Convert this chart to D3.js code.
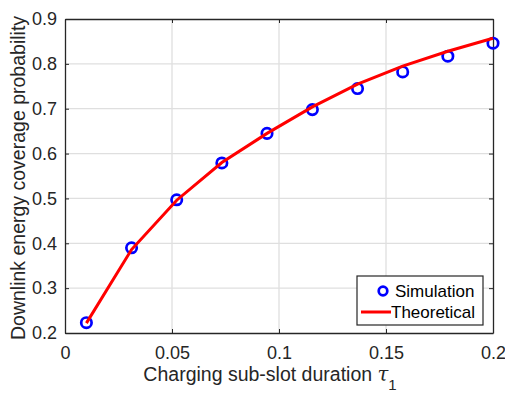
<!DOCTYPE html>
<html>
<head>
<meta charset="utf-8">
<script src="https://cdn.jsdelivr.net/npm/d3@7"></script>
<style>
  body { margin: 0; background: #fff; }
  svg { font-family: "Liberation Sans", Arial, sans-serif; }
  .tick text { fill: #262626; font-size: 18px; }
  .label { fill: #262626; font-size: 19.5px; }
  .legend text { fill: #000; font-size: 17px; }
</style>
</head>
<body>
<svg width="505" height="401"></svg>
<script>
// data
const tau = [0.01, 0.0311, 0.0522, 0.0733, 0.0944, 0.1156, 0.1367, 0.1578, 0.1789, 0.2];
const simulation = [0.223, 0.39, 0.497, 0.579, 0.645, 0.698, 0.745, 0.782, 0.817, 0.846];
const theoretical = [0.222, 0.386, 0.496, 0.58, 0.645, 0.704, 0.755, 0.795, 0.828, 0.857];
const xTicks = [0, 0.05, 0.1, 0.15, 0.2];
const yTicks = [0.2, 0.3, 0.4, 0.5, 0.6, 0.7, 0.8, 0.9];

const svg = d3.select('svg');
const margin = { left: 65, top: 19, right: 12, bottom: 68 };
const width = 505 - margin.left - margin.right;
const height = 401 - margin.top - margin.bottom;

const chart = svg.append('g')
  .attr('transform', `translate(${margin.left}, ${margin.top})`);

const xScale = d3.scaleLinear().domain([0, 0.2]).range([0, width]);
const yScale = d3.scaleLinear().domain([0.2, 0.9]).range([height, 0]);

// grid
chart.append('g')
  .selectAll('line')
  .data(xTicks.slice(1, -1))
  .enter().append('line')
  .attr('x1', d => xScale(d)).attr('x2', d => xScale(d))
  .attr('y1', 0).attr('y2', height)
  .attr('stroke', '#dfdfdf').attr('stroke-width', 1.3);

chart.append('g')
  .selectAll('line')
  .data(yTicks.slice(1, -1))
  .enter().append('line')
  .attr('y1', d => yScale(d)).attr('y2', d => yScale(d))
  .attr('x1', 0).attr('x2', width)
  .attr('stroke', '#dfdfdf').attr('stroke-width', 1.3);

// axes with inward ticks
const fmt = d => d === 0 ? '0' : String(d);

const xAxis = chart.append('g')
  .attr('transform', `translate(0, ${height})`)
  .call(d3.axisBottom(xScale).tickValues(xTicks).tickFormat(fmt).tickSizeInner(-4).tickSizeOuter(0).tickPadding(13));

const yAxis = chart.append('g')
  .call(d3.axisLeft(yScale).tickValues(yTicks).tickFormat(d => d.toFixed(1)).tickSizeInner(-4).tickSizeOuter(0).tickPadding(8));

const xTop = chart.append('g')
  .call(d3.axisTop(xScale).tickValues(xTicks).tickFormat('').tickSizeInner(-4).tickSizeOuter(0));

const yRight = chart.append('g')
  .attr('transform', `translate(${width}, 0)`)
  .call(d3.axisRight(yScale).tickValues(yTicks).tickFormat('').tickSizeInner(-4).tickSizeOuter(0));

[xAxis, yAxis, xTop, yRight].forEach(a => {
  a.selectAll('path').attr('stroke', '#262626').attr('stroke-width', 1.3);
  a.selectAll('line').attr('stroke', '#262626');
});

// theoretical line
const line = d3.line()
  .x((d, i) => xScale(tau[i]))
  .y(d => yScale(d));

// simulation markers
chart.append('g')
  .selectAll('circle')
  .data(simulation)
  .enter().append('circle')
  .attr('cx', (d, i) => xScale(tau[i]))
  .attr('cy', d => yScale(d))
  .attr('r', 5.2)
  .attr('fill', 'none')
  .attr('stroke', '#0000ff')
  .attr('stroke-width', 2.7);

chart.append('path')
  .datum(theoretical)
  .attr('d', line)
  .attr('fill', 'none')
  .attr('stroke', '#ff0000')
  .attr('stroke-width', 3);

// labels
const xLabel = svg.append('text')
  .attr('class', 'label')
  .attr('x', 270)
  .attr('y', 381)
  .attr('text-anchor', 'middle');
xLabel.append('tspan').text('Charging sub-slot duration ');
xLabel.append('tspan').attr('font-family', '"DejaVu Serif", serif').attr('font-style', 'italic').text('τ');
xLabel.append('tspan').attr('dy', 9).attr('font-size', '15px').text('1');

svg.append('text')
  .attr('class', 'label')
  .attr('transform', `translate(25, 178) rotate(-90)`)
  .attr('text-anchor', 'middle')
  .text('Downlink energy coverage probability');

// legend
const legend = svg.append('g').attr('class', 'legend')
  .attr('transform', 'translate(357, 276)');

legend.append('rect')
  .attr('width', 126).attr('height', 49)
  .attr('fill', '#fff').attr('stroke', '#262626').attr('stroke-width', 1.2);

legend.append('circle')
  .attr('cx', 26).attr('cy', 15).attr('r', 4.3)
  .attr('fill', 'none').attr('stroke', '#0000ff').attr('stroke-width', 2.7);
legend.append('text').attr('x', 38).attr('y', 21).text('Simulation');

legend.append('line')
  .attr('x1', 4).attr('x2', 34).attr('y1', 36).attr('y2', 36)
  .attr('stroke', '#ff0000').attr('stroke-width', 3);
legend.append('text').attr('x', 34).attr('y', 42).text('Theoretical');
</script>
</body>
</html>
